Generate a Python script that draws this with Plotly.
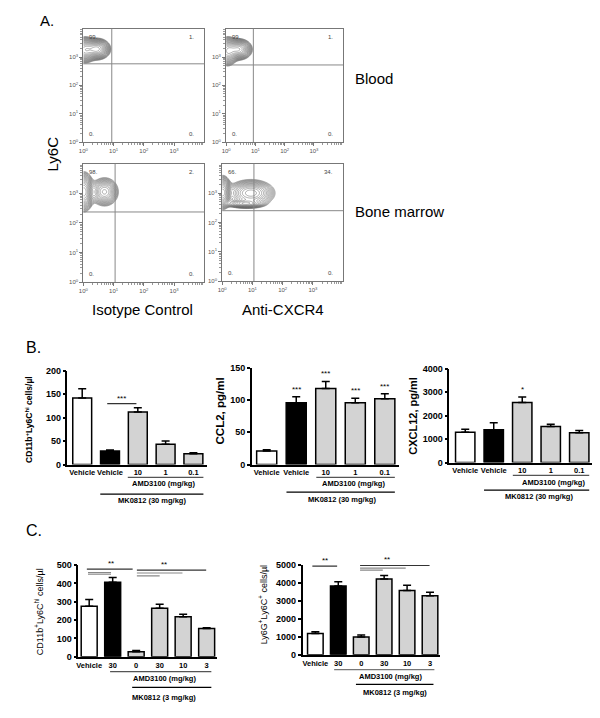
import numpy as np
import plotly.graph_objects as go

W, H = 600, 718
FONT = "Arial, Liberation Sans, sans-serif"


def px(x):
    return x / W


def py(y):
    return 1 - y / H


# ---------------- Panel A data (log10 units) ----------------
flow_tickvals = [0, 1, 2, 3]
flow_ticktext = ["10<sup>0</sup>", "10<sup>1</sup>", "10<sup>2</sup>", "10<sup>3</sup>"]
flow_minor = [k + np.log10(m) for k in range(4) for m in range(2, 10)]
gate_x = [0.94, 0.93, 1.05, 1.05]
gate_y = [2.76, 2.72, 2.37, 2.40]
quad_labels = [
    ["99.", "1.", "0.", "0."],
    ["99.", "1.", "0.", "0."],
    ["98.", "2.", "0.", "0."],
    ["66.", "34.", "0.", "0."],
]
# population components: centre x, centre y, spread x, spread y, weight
tl_cx = [0.05, 0.45]
tl_cy = [3.25, 3.28]
tl_sx = [0.16, 0.19]
tl_sy = [0.20, 0.16]
tl_w = [0.8, 1.0]

tr_cx = [0.05, 0.42]
tr_cy = [3.20, 3.27]
tr_sx = [0.15, 0.20]
tr_sy = [0.22, 0.16]
tr_w = [0.9, 1.0]

bl_cx = [0.02, 0.70]
bl_cy = [3.05, 3.05]
bl_sx = [0.14, 0.21]
bl_sy = [0.28, 0.22]
bl_w = [1.0, 0.55]

br_cx = [0.02, 0.95, 0.75]
br_cy = [3.02, 3.00, 2.64]
br_sx = [0.12, 0.36, 0.30]
br_sy = [0.24, 0.21, 0.07]
br_w = [1.0, 0.6, 0.45]

flow_sets = [
    (tl_cx, tl_cy, tl_sx, tl_sy, tl_w),
    (tr_cx, tr_cy, tr_sx, tr_sy, tr_w),
    (bl_cx, bl_cy, bl_sx, bl_sy, bl_w),
    (br_cx, br_cy, br_sx, br_sy, br_w),
]
# plot boxes in pixels: x0, x1, y0(top), y1(bottom)
flow_boxes = [(79, 201, 24, 139), (223, 341, 24, 139), (79, 201, 161, 281), (219, 341, 161, 280)]

# ---------------- Panel B / C data ----------------
b_cats = ["Vehicle", "Vehicle", "10", "1", "0.1"]
b1_vals = [142, 29, 112, 43, 23]
b1_err = [20, 2, 9, 7, 2]
b2_vals = [21, 96, 118, 96, 102]
b2_err = [2, 9, 11, 7, 8]
b3_vals = [1290, 1400, 2560, 1540, 1270]
b3_err = [130, 300, 240, 100, 100]
b2_stars = ["", "***", "***", "***", "***"]
b3_stars = ["", "", "*", "", ""]

c_cats = ["Vehicle", "30", "0", "30", "10", "3"]
c1_vals = [276, 406, 28, 265, 218, 154]
c1_err = [36, 26, 6, 21, 14, 5]
c2_vals = [1195, 3840, 995, 4230, 3590, 3290]
c2_err = [95, 230, 115, 190, 280, 190]

b_colors = ["white", "black", "#d3d3d3", "#d3d3d3", "#d3d3d3"]
c_colors = ["white", "black", "#d3d3d3", "#d3d3d3", "#d3d3d3", "#d3d3d3"]

# significance brackets: x0, x1, y, colour
b1_sig = [(0.9, 1.95, 130, "#333")]
c1_sig = [(-0.1, 1.85, 478, "#333"), (-0.05, 0.93, 459, "#888"), (-0.05, 0.93, 450, "#888"),
          (2.03, 4.98, 473, "#333"), (2.03, 3.97, 457, "#888"), (2.03, 3.0, 441, "#888")]
c2_sig = [(-0.13, 0.95, 4945, "#333"), (1.95, 4.98, 4985, "#333"),
          (1.95, 3.94, 4835, "#888"), (1.95, 2.94, 4725, "#888")]

fig = go.Figure()
layout = dict(
    width=W, height=H, margin=dict(l=0, r=0, t=0, b=0),
    paper_bgcolor="white", plot_bgcolor="white", showlegend=False,
    font=dict(family=FONT, color="black"),
)
annotations = []
shapes = []

# ---------------- Panel A ----------------
g = np.linspace(0, 4, 201)
GX, GY = np.meshgrid(g, g)
for i, ((cx, cy, sx, sy, w), (x0, x1, y0, y1)) in enumerate(zip(flow_sets, flow_boxes)):
    n = i + 1
    xa = "x" if n == 1 else f"x{n}"
    ya = "y" if n == 1 else f"y{n}"
    Z = np.zeros_like(GX)
    for a, b, s, t, ww in zip(cx, cy, sx, sy, w):
        Z += ww * np.exp(-((GX - a) ** 2) / (2 * s ** 2) - ((GY - b) ** 2) / (2 * t ** 2))
    Z = np.log(Z / Z.max() + 1e-12)
    fig.add_trace(go.Contour(
        x=g, y=g, z=Z, xaxis=xa, yaxis=ya,
        contours=dict(coloring="lines", start=-3.0, end=-0.1, size=0.18, showlabels=False),
        colorscale=[[0, "#5e5e5e"], [1, "#5e5e5e"]], line=dict(width=0.5),
        showscale=False, hoverinfo="skip",
    ))
    axstyle = dict(range=[0, 4], showline=True, mirror=True, linecolor="#777", linewidth=1,
                   showgrid=False, zeroline=False, ticks="outside", ticklen=3, tickcolor="#777",
                   tickvals=flow_tickvals, ticktext=flow_ticktext,
                   tickfont=dict(size=6, color="#555"),
                   minor=dict(tickvals=flow_minor, ticks="outside", ticklen=2, tickcolor="#999"))
    layout["xaxis" if n == 1 else f"xaxis{n}"] = dict(axstyle, domain=[px(x0), px(x1)], anchor=ya)
    layout["yaxis" if n == 1 else f"yaxis{n}"] = dict(axstyle, domain=[py(y1), py(y0)], anchor=xa)
    shapes.append(dict(type="line", xref=xa, yref=f"{ya} domain", x0=gate_x[i], x1=gate_x[i],
                       y0=0, y1=1, line=dict(color="#888", width=1)))
    shapes.append(dict(type="line", xref=f"{xa} domain", yref=ya, x0=0, x1=1,
                       y0=gate_y[i], y1=gate_y[i], line=dict(color="#888", width=1)))
    ql = quad_labels[i]
    for txt, qx, qy, xanc, yanc in [(ql[0], 0.03, 0.97, "left", "top"), (ql[1], 0.93, 0.97, "right", "top"),
                                    (ql[2], 0.03, 0.03, "left", "bottom"), (ql[3], 0.93, 0.03, "right", "bottom")]:
        annotations.append(dict(text=txt, xref=f"{xa} domain", yref=f"{ya} domain", x=qx, y=qy,
                                xanchor=xanc, yanchor=yanc, showarrow=False,
                                font=dict(size=6, color="#444")))


def ann(text, x, y, size, bold=False, angle=0, xanchor="center", color="black"):
    annotations.append(dict(text=text, xref="paper", yref="paper", x=px(x), y=py(y),
                            xanchor=xanchor, yanchor="middle", showarrow=False, textangle=angle,
                            font=dict(size=size, color=color, family=FONT,
                                      weight="bold" if bold else "normal")))


ann("A.", 42, 16, 15)
ann("Ly6C", 48, 151, 15, angle=-90)
ann("Blood", 351, 75, 15, xanchor="left")
ann("Bone marrow", 351, 209, 15, xanchor="left")
ann("Isotype Control", 139, 309, 15)
ann("Anti-CXCR4", 280, 309, 15)
ann("B.", 29, 347, 16)
ann("C.", 29, 533, 16)

# ---------------- Bar charts ----------------
bar_specs = [
    # n, cats, vals, err, colors, xdom px, xrange, ydom px (top,bottom), yrange, dtick
    (5, b_cats, b1_vals, b1_err, b_colors, (63, 204), [-0.53, 4.5], (371, 466), [0, 200], 50),
    (6, b_cats, b2_vals, b2_err, b_colors, (249, 397), [-0.5, 4.47], (368, 466), [0, 150], 50),
    (7, b_cats, b3_vals, b3_err, b_colors, (448, 592), [-0.56, 4.45], (369, 464), [0, 4000], 1000),
    (8, c_cats, c1_vals, c1_err, c_colors, (74, 214), [-0.46, 5.45], (568, 661), [0, 500], 100),
    (9, c_cats, c2_vals, c2_err, c_colors, (300, 439), [-0.56, 5.45], (568, 659), [0, 5000], 1000),
]
for n, cats, vals, err, cols, xd, xr, yd, yr, dt in bar_specs:
    idx = list(range(len(cats)))
    fig.add_trace(go.Bar(
        x=idx, y=vals, xaxis=f"x{n}", yaxis=f"y{n}", width=0.68,
        marker=dict(color=cols, line=dict(color="black", width=1.5)),
        error_y=dict(type="data", array=err, arrayminus=[0] * len(err), symmetric=False,
                     color="black", thickness=1.5, width=4),
        hoverinfo="skip",
    ))
    layout[f"xaxis{n}"] = dict(domain=[px(xd[0]), px(xd[1])], range=xr, anchor=f"y{n}",
                               showline=True, linecolor="black", linewidth=1.5, ticks="",
                               tickvals=idx, ticktext=cats, showgrid=False, zeroline=False,
                               tickangle=0,
                               tickfont=dict(size=7.5, weight="bold", family=FONT))
    layout[f"yaxis{n}"] = dict(domain=[py(yd[1]), py(yd[0])], range=yr, anchor=f"x{n}",
                               showline=True, linecolor="black", linewidth=1.5, ticks="outside",
                               ticklen=3, tickwidth=1.5, tickcolor="black", dtick=dt, tick0=0,
                               showgrid=False, zeroline=False,
                               tickfont=dict(size=9, weight="bold", family=FONT))

# stars on top of bars
for n, vals, err, stars in [(6, b2_vals, b2_err, b2_stars), (7, b3_vals, b3_err, b3_stars)]:
    for i, s in enumerate(stars):
        if s:
            annotations.append(dict(text=s, xref=f"x{n}", yref=f"y{n}", x=i, y=vals[i] + err[i],
                                    yanchor="bottom", yshift=1, showarrow=False,
                                    font=dict(size=8, family=FONT)))

# significance brackets
for n, sig, star_specs in [(5, b1_sig, [("***", 1.43, 130)]),
                           (8, c1_sig, [("**", 0.93, 478), ("**", 3.17, 473)]),
                           (9, c2_sig, [("**", 0.43, 4945), ("**", 3.11, 4985)])]:
    for x0, x1, yv, col in sig:
        shapes.append(dict(type="line", xref=f"x{n}", yref=f"y{n}", x0=x0, x1=x1, y0=yv, y1=yv,
                           line=dict(color=col, width=1.2)))
    for s, sx, sy in star_specs:
        annotations.append(dict(text=s, xref=f"x{n}", yref=f"y{n}", x=sx, y=sy, yanchor="bottom",
                                yshift=-1, showarrow=False, font=dict(size=8, family=FONT)))

# group lines below axes: axis n, x0, x1, y px, label, label x, label y px
group_specs = [
    (5, 1.64, 4.36, 479, "AMD3100 (mg/kg)", 2.93, 485, "#555"),
    (5, 0.65, 4.36, 496, "MK0812 (30 mg/kg)", 2.5, 502, "black"),
    (6, 1.68, 4.34, 479, "AMD3100 (mg/kg)", 2.93, 485, "#555"),
    (6, 0.67, 4.34, 494, "MK0812 (30 mg/kg)", 2.55, 501, "black"),
    (7, 1.67, 4.35, 477, "AMD3100 (mg/kg)", 3.1, 484, "#555"),
    (7, 0.66, 4.35, 492, "MK0812 (30 mg/kg)", 2.58, 498, "black"),
    (8, 0.89, 5.2, 676, "AMD3100 (mg/kg)", 3.2, 683, "#555"),
    (8, 1.83, 5.2, 692, "MK0812 (3 mg/kg)", 3.2, 702, "black"),
    (9, 0.82, 5.19, 674, "AMD3100 (mg/kg)", 3.29, 681, "#777"),
    (9, 1.77, 5.15, 689, "MK0812 (3 mg/kg)", 3.46, 697, "black"),
]
for n, x0, x1, ypx, lab, lx, ly, col in group_specs:
    shapes.append(dict(type="line", xref=f"x{n}", yref="paper", x0=x0, x1=x1, y0=py(ypx), y1=py(ypx),
                       line=dict(color=col, width=1.2)))
    annotations.append(dict(text=lab, xref=f"x{n}", yref="paper", x=lx, y=py(ly), yanchor="middle",
                            showarrow=False, font=dict(size=7.5, weight="bold", family=FONT)))

# y axis titles
ann("CD11b<sup>+</sup>Ly6C<sup>hi</sup> cells/µl", 24, 420, 8.5, bold=True, angle=-90)
ann("CCL2, pg/ml", 217, 412, 11.5, bold=True, angle=-90)
ann("CXCL12, pg/ml", 412, 417, 11, bold=True, angle=-90)
ann("CD11b<sup>+</sup>Ly6C<sup>hi</sup> cells/µl", 35, 615, 9, angle=-90)
ann("Ly6G<sup>+</sup>Ly6C<sup>+</sup> cells/µl", 260, 608, 9, angle=-90)

layout["annotations"] = annotations
layout["shapes"] = shapes
fig.update_layout(**layout)
fig.write_html("out.html", config={"displayModeBar": False})

# remove the browser's default page margin so the figure sits at the page origin
with open("out.html", "r", encoding="utf-8") as f:
    html = f.read()
html = html.replace("<head>", "<head><style>html,body{margin:0;padding:0;}</style>", 1)
with open("out.html", "w", encoding="utf-8") as f:
    f.write(html)
